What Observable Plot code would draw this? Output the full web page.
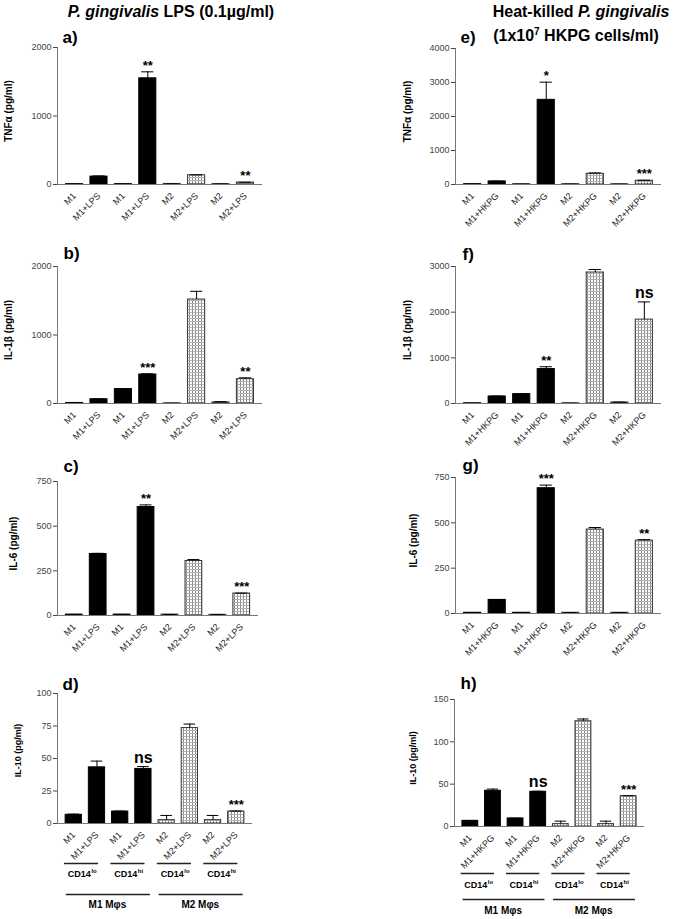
<!DOCTYPE html>
<html><head><meta charset="utf-8">
<script src="https://cdn.jsdelivr.net/npm/d3@7"></script>
<script src="https://cdn.jsdelivr.net/npm/@observablehq/plot@0.6"></script>
<style>
body{margin:0;background:#fff;}
#fig{position:relative;width:677px;height:919px;font-family:"Liberation Sans",Arial,sans-serif;overflow:hidden;background:#fff;}
.panel{position:absolute;}
.title{position:absolute;font-weight:bold;font-size:16px;line-height:16px;white-space:nowrap;color:#000;transform:translateX(-50%);}
.sup{font-size:10px;position:relative;top:-6px;}
</style></head><body><div id="fig">
<div class="title" style="left:171px;top:4px;"><i>P. gingivalis</i> LPS (0.1µg/ml)</div>
<div class="title" style="left:581px;top:4px;">Heat-killed <i>P. gingivalis</i></div>
<div class="title" style="left:576px;top:28px;">(1x10<span class="sup">7</span> HKPG cells/ml)</div>
</div>
<script>
// ---- data ----
const cellType = ["M1","M1","M1","M1","M2","M2","M2","M2"];
const lpsLabels = ["M1","M1+LPS","M1","M1+LPS","M2","M2+LPS","M2","M2+LPS"];
const hkpgLabels = ["M1","M1+HKPG","M1","M1+HKPG","M2","M2+HKPG","M2","M2+HKPG"];
const cd14Groups = ["lo","hi","lo","hi"];
const macGroups = ["M1 Mφs","M2 Mφs"];

const tnfLps    = [5, 115, 5, 1550, 8, 135, 6, 28];
const tnfLpsErr = [1, 10, 1, 95, 1, 5, 1, 4];
const tnfLpsSig = ["","","","**","","","","**"];
const il1bLps    = [8, 62, 210, 423, 3, 1518, 15, 355];
const il1bLpsErr = [1, 4, 3, 10, 1, 120, 12, 20];
const il1bLpsSig = ["","","","***","","","","**"];
const il6Lps    = [5, 344, 5, 607, 5, 305, 4, 123];
const il6LpsErr = [1, 4, 1, 12, 1, 8, 1, 2];
const il6LpsSig = ["","","","**","","","","***"];
const il10Lps    = [6.7, 43.2, 9.2, 42, 2.6, 73.4, 2.6, 9.2];
const il10LpsErr = [0.5, 4.8, 0.3, 1.8, 3.6, 3.1, 3.6, 0.4];
const il10LpsSig = ["","","","ns","","","","***"];

const tnfHk    = [10, 90, 5, 2490, 10, 315, 8, 110];
const tnfHkErr = [2, 8, 1, 520, 1, 25, 1, 15];
const tnfHkSig = ["","","","*","","","","***"];
const il1bHk    = [5, 154, 205, 754, 5, 2868, 22, 1837];
const il1bHkErr = [1, 8, 5, 51, 1, 66, 8, 387];
const il1bHkSig = ["","","","**","","","","ns"];
const il6Hk    = [4, 75, 4, 691, 4, 463, 4, 402];
const il6HkErr = [0.5, 1, 0.5, 17, 0.5, 11, 0.5, 5];
const il6HkSig = ["","","","***","","","","**"];
const il10Hk    = [6.7, 42.2, 9.5, 41, 2.8, 124.3, 2.8, 35.9];
const il10HkErr = [0.4, 2, 0.3, 0.6, 3.5, 2.7, 3.5, 0.4];
const il10HkSig = ["","","","ns","","","","***"];

const ticks2000 = [0, 1000, 2000];
const ticks750 = [0, 250, 500, 750];
const ticks100 = [0, 25, 50, 75, 100];
const ticks4000 = [0, 1000, 2000, 3000, 4000];
const ticks3000 = [0, 1000, 2000, 3000];
const ticks150 = [0, 50, 100, 150];

// ---- drawing ----
const fig = document.getElementById("fig");
const FONT = "Liberation Sans, Arial, Helvetica, sans-serif";

function panel(c) {
  const mT = 32, mR = 16, mB = c.groups ? 100 : 50;
  const mL = c.x0 - c.svgLeft;
  const width = c.x1 - c.svgLeft + mR;
  const height = c.yzero - c.ytop + mT + mB;
  const rows = c.values.map((v, i) => ({i, v, e: c.errs[i], s: c.sig[i], t: cellType[i]}));
  const pid = "pat-" + c.letter.replace(")", "");
  const marks = [
    () => {
      const defs = d3.create("svg:defs");
      const p = defs.append("pattern").attr("id", pid).attr("patternUnits", "userSpaceOnUse")
        .attr("width", 3).attr("height", 3);
      p.append("rect").attr("width", 3).attr("height", 3).attr("fill", "#fff");
      p.append("rect").attr("width", 1).attr("height", 3).attr("fill", "#8a8a8a");
      p.append("rect").attr("width", 3).attr("height", 1).attr("fill", "#b0b0b0");
      return defs.node();
    },
    Plot.rect(rows.filter(d => d.t === "M1"), {x1: d => d.i - 0.35, x2: d => d.i + 0.35, y1: 0, y2: "v", fill: "#000", stroke: "#000", strokeWidth: 1}),
    Plot.rect(rows.filter(d => d.t === "M2"), {x1: d => d.i - 0.35, x2: d => d.i + 0.35, y1: 0, y2: "v", fill: `url(#${pid})`, stroke: "#333", strokeWidth: 1}),
    Plot.ruleX(rows, {x: "i", y1: "v", y2: d => d.v + d.e, stroke: "#000", strokeWidth: 1}),
    Plot.ruleY(rows, {y: d => d.v + d.e, x1: d => d.i - 0.25, x2: d => d.i + 0.25, stroke: "#000", strokeWidth: 1}),
    Plot.ruleY([0], {stroke: "#777", strokeWidth: 1}),
    Plot.ruleX([-0.7], {stroke: "#777", strokeWidth: 1}),
    Plot.axisY({ticks: c.ticks, tickFormat: d3.format("d"), tickSize: 4, tickPadding: 2, fontSize: 9, color: "#444", label: null}),
    Plot.axisX({ticks: d3.range(8), tickFormat: i => c.labels[i], tickRotate: -45, tickSize: 0, tickPadding: 10, fontSize: 9, color: "#222", label: null}),
    Plot.text(rows.filter(d => d.s && d.s !== "ns"), {x: "i", y: d => d.v + d.e, text: "s", lineAnchor: "bottom", dy: -2, fontSize: 13, fontWeight: "bold", fill: "#000"}),
    Plot.text(rows.filter(d => d.s === "ns"), {x: "i", y: d => d.v + d.e, text: "s", lineAnchor: "bottom", dy: -4, fontSize: 16, fontWeight: "bold", fill: "#000"}),
    Plot.text([c.letter], {text: d => d, frameAnchor: "top-left", textAnchor: "start", lineAnchor: "bottom", dx: c.letterDx, dy: c.letterDy, fontSize: 17, fontWeight: "bold", fill: "#000"}),
    Plot.text([c.ylabel], {text: d => d, frameAnchor: "left", rotate: -90, textAnchor: "middle", dx: c.ylabelDx, dy: c.ylabelDy, fontSize: c.ylabelSize, fontWeight: "bold", fill: "#000"})
  ];
  if (c.groups) {
    const g = c.groups;
    const cdRows = cd14Groups.map((k, j) => ({s: 2 * j, k}));
    const macRows = macGroups.map((k, j) => ({s: 4 * j, k}));
    marks.push(
      Plot.ruleY(cdRows, {y: 0, x1: d => d.s - 0.4, x2: d => d.s + 1.07, dy: g[0], stroke: "#222", strokeWidth: 1.4}),
      Plot.text(cdRows, {x: d => d.s + 0.35, y: 0, text: () => "CD14", textAnchor: "end", lineAnchor: "bottom", dx: 9, dy: g[1], fontSize: 9, fontWeight: "bold", fill: "#000"}),
      Plot.text(cdRows, {x: d => d.s + 0.35, y: 0, text: "k", textAnchor: "start", lineAnchor: "bottom", dx: 9.5, dy: g[1] - 4, fontSize: 6, fontWeight: "bold", fill: "#000"}),
      Plot.ruleY(macRows, {y: 0, x1: d => d.s - 0.32, x2: d => d.s + 3.3, dy: g[2], stroke: "#222", strokeWidth: 1.4}),
      Plot.text(macRows, {x: d => d.s + 1.45, y: 0, text: "k", lineAnchor: "bottom", dy: g[3], fontSize: 10, fontWeight: "bold", fill: "#000"})
    );
  }
  const svg = Plot.plot({
    width, height, marginLeft: mL, marginRight: mR, marginTop: mT, marginBottom: mB,
    x: {type: "linear", domain: [-0.7, 7.7]},
    y: {type: "linear", domain: [0, c.ymax]},
    style: {background: "transparent", maxWidth: "none", overflow: "visible", fontFamily: FONT, color: "#000"},
    marks
  });
  const div = document.createElement("div");
  div.className = "panel";
  div.style.left = c.svgLeft + "px";
  div.style.top = (c.ytop - mT) + "px";
  div.appendChild(svg);
  fig.appendChild(div);
}

panel({letter: "a)", svgLeft: 0, x0: 57, x1: 262, ytop: 47, yzero: 184, ymax: 2000, ticks: ticks2000, labels: lpsLabels,
  values: tnfLps, errs: tnfLpsErr, sig: tnfLpsSig, ylabel: "TNFα (pg/ml)", ylabelDx: -49, ylabelDy: -5, ylabelSize: 10, letterDx: 5, letterDy: -5});
panel({letter: "b)", svgLeft: 0, x0: 57, x1: 262, ytop: 266, yzero: 403, ymax: 2000, ticks: ticks2000, labels: lpsLabels,
  values: il1bLps, errs: il1bLpsErr, sig: il1bLpsSig, ylabel: "IL-1β (pg/ml)", ylabelDx: -49, ylabelDy: -5, ylabelSize: 10, letterDx: 6, letterDy: -8});
panel({letter: "c)", svgLeft: 0, x0: 57, x1: 258, ytop: 481, yzero: 615, ymax: 750, ticks: ticks750, labels: lpsLabels,
  values: il6Lps, errs: il6LpsErr, sig: il6LpsSig, ylabel: "IL-6 (pg/ml)", ylabelDx: -44, ylabelDy: -5, ylabelSize: 10, letterDx: 6, letterDy: -10});
panel({letter: "d)", svgLeft: 0, x0: 57, x1: 252, ytop: 693, yzero: 823, ymax: 100, ticks: ticks100, labels: lpsLabels,
  values: il10Lps, errs: il10LpsErr, sig: il10LpsSig, ylabel: "IL-10 (pg/ml)", ylabelDx: -39, ylabelDy: -8, ylabelSize: 9, letterDx: 5, letterDy: -4,
  groups: [40, 53, 71, 84]});
panel({letter: "e)", svgLeft: 395, x0: 455, x1: 661, ytop: 48, yzero: 184, ymax: 4000, ticks: ticks4000, labels: hkpgLabels,
  values: tnfHk, errs: tnfHkErr, sig: tnfHkSig, ylabel: "TNFα (pg/ml)", ylabelDx: -48, ylabelDy: -5, ylabelSize: 10, letterDx: 5, letterDy: -6});
panel({letter: "f)", svgLeft: 395, x0: 455, x1: 661, ytop: 266, yzero: 403, ymax: 3000, ticks: ticks3000, labels: hkpgLabels,
  values: il1bHk, errs: il1bHkErr, sig: il1bHkSig, ylabel: "IL-1β (pg/ml)", ylabelDx: -48, ylabelDy: -5, ylabelSize: 10, letterDx: 7, letterDy: -7});
panel({letter: "g)", svgLeft: 395, x0: 455, x1: 661, ytop: 477, yzero: 613, ymax: 750, ticks: ticks750, labels: hkpgLabels,
  values: il6Hk, errs: il6HkErr, sig: il6HkSig, ylabel: "IL-6 (pg/ml)", ylabelDx: -42, ylabelDy: -5, ylabelSize: 10, letterDx: 7, letterDy: -7});
panel({letter: "h)", svgLeft: 395, x0: 454, x1: 644, ytop: 699, yzero: 826, ymax: 150, ticks: ticks150, labels: hkpgLabels,
  values: il10Hk, errs: il10HkErr, sig: il10HkSig, ylabel: "IL-10 (pg/ml)", ylabelDx: -41, ylabelDy: -5, ylabelSize: 9, letterDx: 6, letterDy: -11,
  groups: [47, 61, 73, 87]});
</script></body></html>
